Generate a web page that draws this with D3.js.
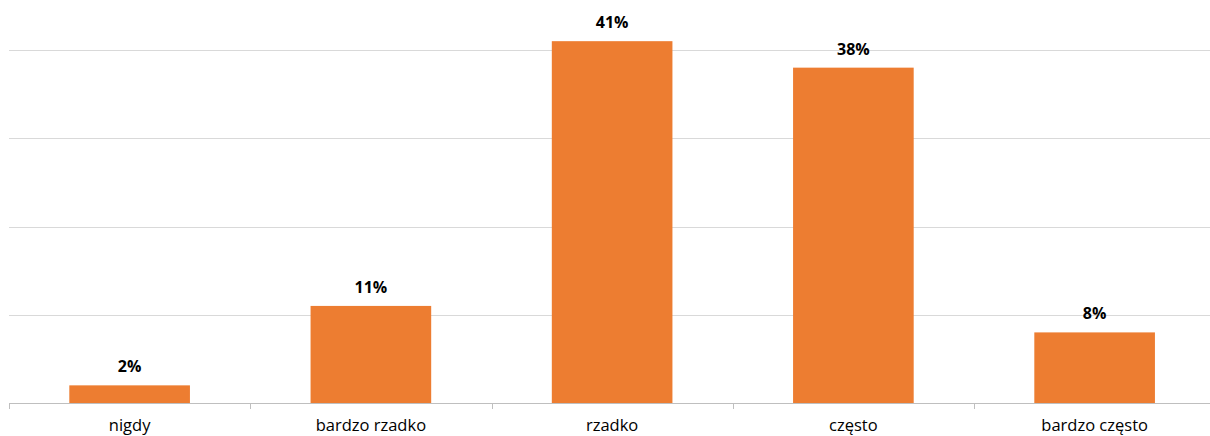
<!DOCTYPE html>
<html>
<head>
<meta charset="utf-8">
<script src="https://cdn.jsdelivr.net/npm/d3@7"></script>
<style>
  html, body { margin: 0; padding: 0; background: #fff; }
  svg { display: block; }
</style>
</head>
<body>
<svg id="chart" width="1210" height="436"></svg>
<script>
const categories = ["nigdy", "bardzo rzadko", "rzadko", "często", "bardzo często"];
const values = [2, 11, 41, 38, 8];
const gridTicks = [10, 20, 30, 40];

const svg = d3.select("#chart");
const left = 9, right = 1215.25, baseY = 403, topY = 50;

const x = d3.scaleBand()
  .domain(categories)
  .range([left, right])
  .paddingInner(0.5)
  .paddingOuter(0.25);

const y = d3.scaleLinear().domain([0, 40]).range([baseY, topY]);

// horizontal gridlines
svg.append("g")
  .selectAll("line")
  .data(gridTicks)
  .join("line")
  .attr("x1", left)
  .attr("x2", 1210)
  .attr("y1", d => Math.round(y(d)) + 0.5)
  .attr("y2", d => Math.round(y(d)) + 0.5)
  .attr("stroke", "#d9d9d9")
  .attr("stroke-width", 1);

// bars
svg.append("g")
  .selectAll("rect")
  .data(values)
  .join("rect")
  .attr("x", (d, i) => x(categories[i]))
  .attr("width", x.bandwidth())
  .attr("y", d => y(d))
  .attr("height", d => baseY - y(d))
  .attr("fill", "#ed7d31");

// category axis with boundary ticks
const step = x.step();
const boundaries = d3.range(categories.length + 1).map(i => left + i * step);
const axis = svg.append("g");
axis.append("line")
  .attr("x1", left).attr("x2", 1210)
  .attr("y1", baseY + 0.5).attr("y2", baseY + 0.5)
  .attr("stroke", "#bfbfbf");
axis.selectAll("line.tick")
  .data(boundaries)
  .join("line")
  .attr("class", "tick")
  .attr("x1", d => Math.round(d) + 0.5)
  .attr("x2", d => Math.round(d) + 0.5)
  .attr("y1", baseY)
  .attr("y2", baseY + 6)
  .attr("stroke", "#bfbfbf");

axis.selectAll("text")
  .data(categories)
  .join("text")
  .attr("x", d => x(d) + x.bandwidth() / 2)
  .attr("y", 431)
  .attr("text-anchor", "middle")
  .attr("font-family", "'Open Sans', 'Noto Sans', sans-serif")
  .attr("font-size", 16.5)
  .attr("fill", "#000")
  .text(d => d);

// value labels
svg.append("g")
  .selectAll("text")
  .data(values)
  .join("text")
  .attr("x", (d, i) => x(categories[i]) + x.bandwidth() / 2)
  .attr("y", d => y(d) - 13)
  .attr("text-anchor", "middle")
  .attr("font-family", "'Open Sans', 'Noto Sans', sans-serif")
  .attr("font-weight", "bold")
  .attr("font-size", 16)
  .attr("fill", "#000")
  .text(d => d + "%");
</script>
</body>
</html>
